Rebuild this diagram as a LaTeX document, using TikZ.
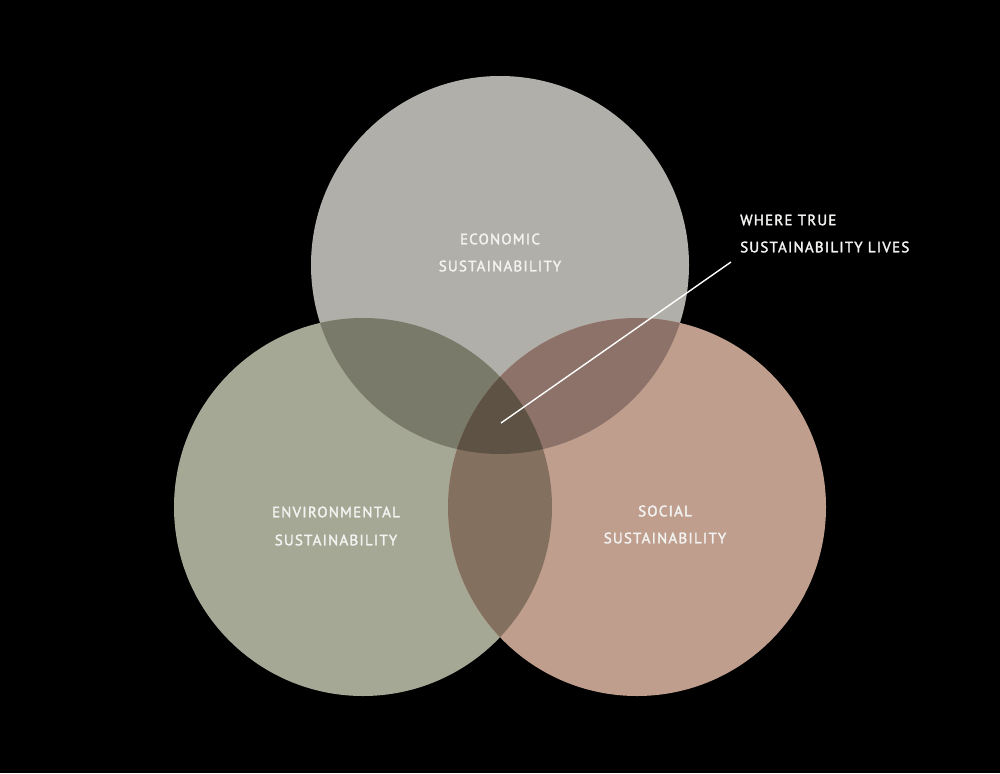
\documentclass[tikz,border=0pt]{standalone}
\usepackage{fontspec}
\setmainfont{PT Sans}[LetterSpace=8,FakeBold=2]
\begin{document}
\begin{tikzpicture}[x=1pt,y=-1pt]
\definecolor{cTop}{HTML}{B0AFAA}
\definecolor{cLeft}{HTML}{A5A895}
\definecolor{cRight}{HTML}{BF9E8E}
\definecolor{cTL}{HTML}{7A7A6A}
\definecolor{cTR}{HTML}{8C7269}
\definecolor{cLR}{HTML}{84705E}
\definecolor{cAll}{HTML}{5E5245}
\definecolor{txt}{HTML}{F2F2F0}
\tikzset{lbl/.style={text=txt,font=\fontsize{15}{17}\selectfont,inner sep=0pt}}
\fill[black] (0,0) rectangle (1000,773);
\useasboundingbox (0,0) rectangle (1000,773);
\def\T{(500,265) circle[radius=189]}
\def\L{(363,507) circle[radius=189]}
\def\R{(637,507) circle[radius=189]}
\fill[cTop] \T;
\fill[cLeft] \L;
\fill[cRight] \R;
\begin{scope}\clip \T; \fill[cTL] \L; \fill[cTR] \R; \end{scope}
\begin{scope}\clip \L; \fill[cLR] \R; \end{scope}
\begin{scope}\clip \T; \clip \L; \fill[cAll] \R; \end{scope}
\node[lbl] (e1) at (500,239) {ECONOMIC};
\node[lbl] (e2) at (500,266) {SUSTAINABILITY};
\node[lbl] (v1) at (336,512) {ENVIRONMENTAL};
\node[lbl] (v2) at (336,540) {SUSTAINABILITY};
\node[lbl] (s1) at (665,511) {SOCIAL};
\node[lbl] (s2) at (665,538) {SUSTAINABILITY};
\node[lbl,anchor=west] (w1) at (740,220) {WHERE TRUE};
\node[lbl,anchor=west] (w2) at (740,247) {SUSTAINABILITY LIVES};
\coordinate (pin) at (501,423);
\coordinate (lend) at (731,262);
\draw[white,line width=1.4pt] (pin) -- (lend);
\end{tikzpicture}
\end{document}
